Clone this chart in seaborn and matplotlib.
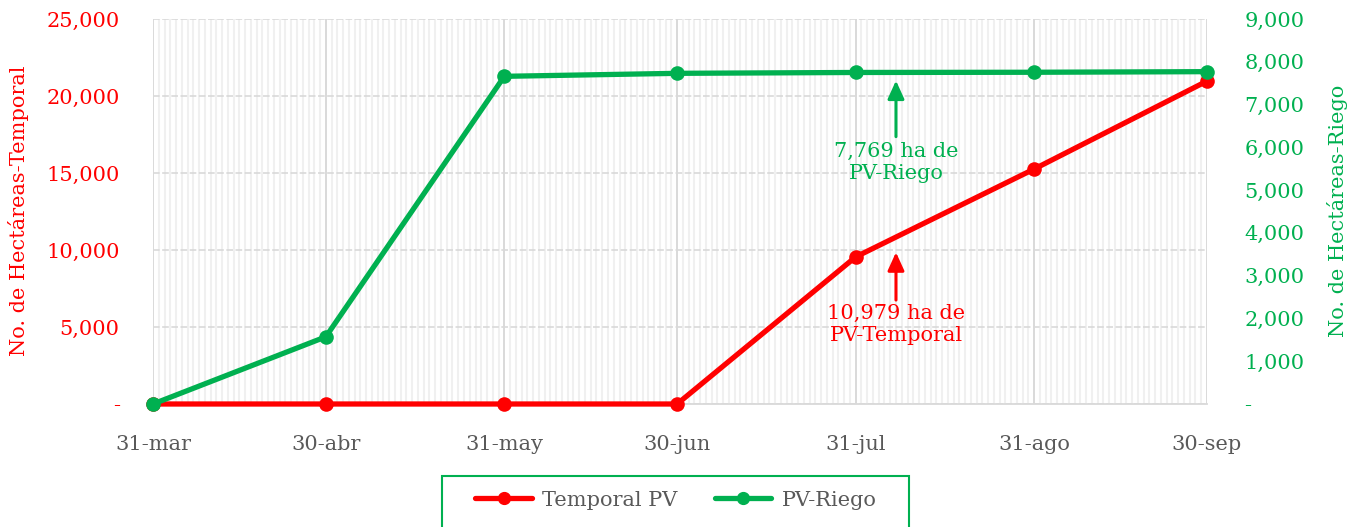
import pandas as pd
import numpy as np
import matplotlib
matplotlib.use("Agg")
import matplotlib.pyplot as plt
import matplotlib.dates as mdates
from matplotlib.ticker import FuncFormatter, FixedLocator, MultipleLocator
from matplotlib.lines import Line2D
from matplotlib.patches import Rectangle
import seaborn as sns

# ==========================
# DATA
# ==========================
fechas = ["2021-03-31", "2021-04-30", "2021-05-31", "2021-06-30",
          "2021-07-31", "2021-08-31", "2021-09-30"]
etiquetas_x = ["31-mar", "30-abr", "31-may", "30-jun", "31-jul", "31-ago", "30-sep"]
temporal_pv = [0, 0, 0, 0, 9550, 15260, 20970]
pv_riego = [0, 1570, 7660, 7730, 7750, 7755, 7769]

ROJO = "#ff0000"
VERDE = "#00b050"
GRIS = "#595959"

df = pd.DataFrame({"fecha": pd.to_datetime(fechas),
                   "Temporal PV": temporal_pv,
                   "PV-Riego": pv_riego})

sns.set_style("white")
plt.rcParams["font.family"] = ["DejaVu Serif"]
FS = 15

fig = plt.figure(figsize=(13.61, 5.27), dpi=100)
ax = fig.add_axes([153/1361, 1 - 404/527, (1207-153)/1361, (404-19)/527])
ax2 = ax.twinx()

sns.lineplot(data=df, x="fecha", y="Temporal PV", ax=ax, color=ROJO, lw=3.8,
             marker="o", markersize=10.5, markeredgewidth=0, zorder=5, clip_on=False)
sns.lineplot(data=df, x="fecha", y="PV-Riego", ax=ax2, color=VERDE, lw=3.8,
             marker="o", markersize=10.5, markeredgewidth=0, zorder=5, clip_on=False)

# ==========================
# AXES
# ==========================
x0, x1 = mdates.date2num(df["fecha"].iloc[0]), mdates.date2num(df["fecha"].iloc[-1])
ax.set_xlim(x0, x1)
ax.set_ylim(0, 25000)
ax2.set_ylim(0, 9000)

ax.xaxis.set_major_locator(FixedLocator(mdates.date2num(df["fecha"])))
ax.set_xticklabels(etiquetas_x)
ax.xaxis.set_minor_locator(mdates.DayLocator())
ax.yaxis.set_major_locator(MultipleLocator(5000))
ax2.yaxis.set_major_locator(MultipleLocator(1000))

fmt = FuncFormatter(lambda v, p: "-" if v == 0 else f"{v:,.0f}")
ax.yaxis.set_major_formatter(fmt)
ax2.yaxis.set_major_formatter(fmt)

ax.tick_params(axis="x", which="major", length=8, color="#d9d9d9", width=1.3,
               labelsize=FS, labelcolor=GRIS, pad=14)
ax.tick_params(axis="x", which="minor", length=0)
ax.tick_params(axis="y", length=0, labelsize=FS, labelcolor=ROJO, pad=24)
ax2.tick_params(axis="y", length=0, labelsize=FS, labelcolor=VERDE, pad=27)

ax.grid(True, axis="x", which="major", color="#d9d9d9", lw=1.4)
ax.grid(True, axis="x", which="minor", color="#f0f0f0", lw=1.5)
ax.grid(True, axis="y", which="major", color="#d9d9d9", lw=1.2, ls=(0, (4, 1.5)))
ax2.grid(False)
ax.set_axisbelow(True)

for a in (ax, ax2):
    for s in a.spines.values():
        s.set_visible(False)
ax.spines["bottom"].set_visible(True)
ax.spines["bottom"].set_color("#d9d9d9")
ax.spines["bottom"].set_linewidth(1.3)

ax.set_xlabel("")
ax.set_ylabel("")
ax2.set_ylabel("")
fig.text(19/1361, 1 - 211/527, "No. de Hectáreas-Temporal", color=ROJO, fontsize=FS,
         rotation=90, ha="center", va="center")
fig.text(1337/1361, 1 - 211/527, "No. de Hectáreas-Riego", color=VERDE, fontsize=FS,
         rotation=90, ha="center", va="center")

# ==========================
# ANNOTATIONS
# ==========================
flecha = dict(arrowstyle="-|>,head_length=0.55,head_width=0.25",
              lw=2.2, mutation_scale=20, shrinkA=0, shrinkB=0)
x_flecha = mdates.date2num(pd.Timestamp("2021-08-07"))
ax2.annotate("", xy=(x_flecha, 7560), xytext=(x_flecha, 6250),
             arrowprops=dict(color=VERDE, **flecha))
ax2.text(x_flecha, 6130, "7,769 ha de\nPV-Riego", color=VERDE, fontsize=FS,
         ha="center", va="top", linespacing=1.2)
ax.annotate("", xy=(x_flecha, 9850), xytext=(x_flecha, 6750),
            arrowprops=dict(color=ROJO, **flecha))
ax.text(x_flecha, 6500, "10,979 ha de\nPV-Temporal", color=ROJO, fontsize=FS,
        ha="center", va="top", linespacing=1.2)

# ==========================
# LEGEND
# ==========================
handles = [Line2D([], [], color=ROJO, lw=3.8, marker="o", markersize=8.5),
           Line2D([], [], color=VERDE, lw=3.8, marker="o", markersize=8.5)]
leg = fig.legend(handles, ["Temporal PV", "PV-Riego"], loc="center",
                 bbox_to_anchor=(676/1361, 1 - 500/527), ncol=2, frameon=False,
                 fontsize=FS, handlelength=2.7, handletextpad=0.5, columnspacing=1.8)
for t in leg.get_texts():
    t.set_color(GRIS)
fig.patches.append(Rectangle((442/1361, -0.05), (909-442)/1361, 0.05 + (527-476)/527,
                             transform=fig.transFigure, fill=False,
                             edgecolor=VERDE, lw=1.5))

fig.savefig("out.png", dpi=100)
